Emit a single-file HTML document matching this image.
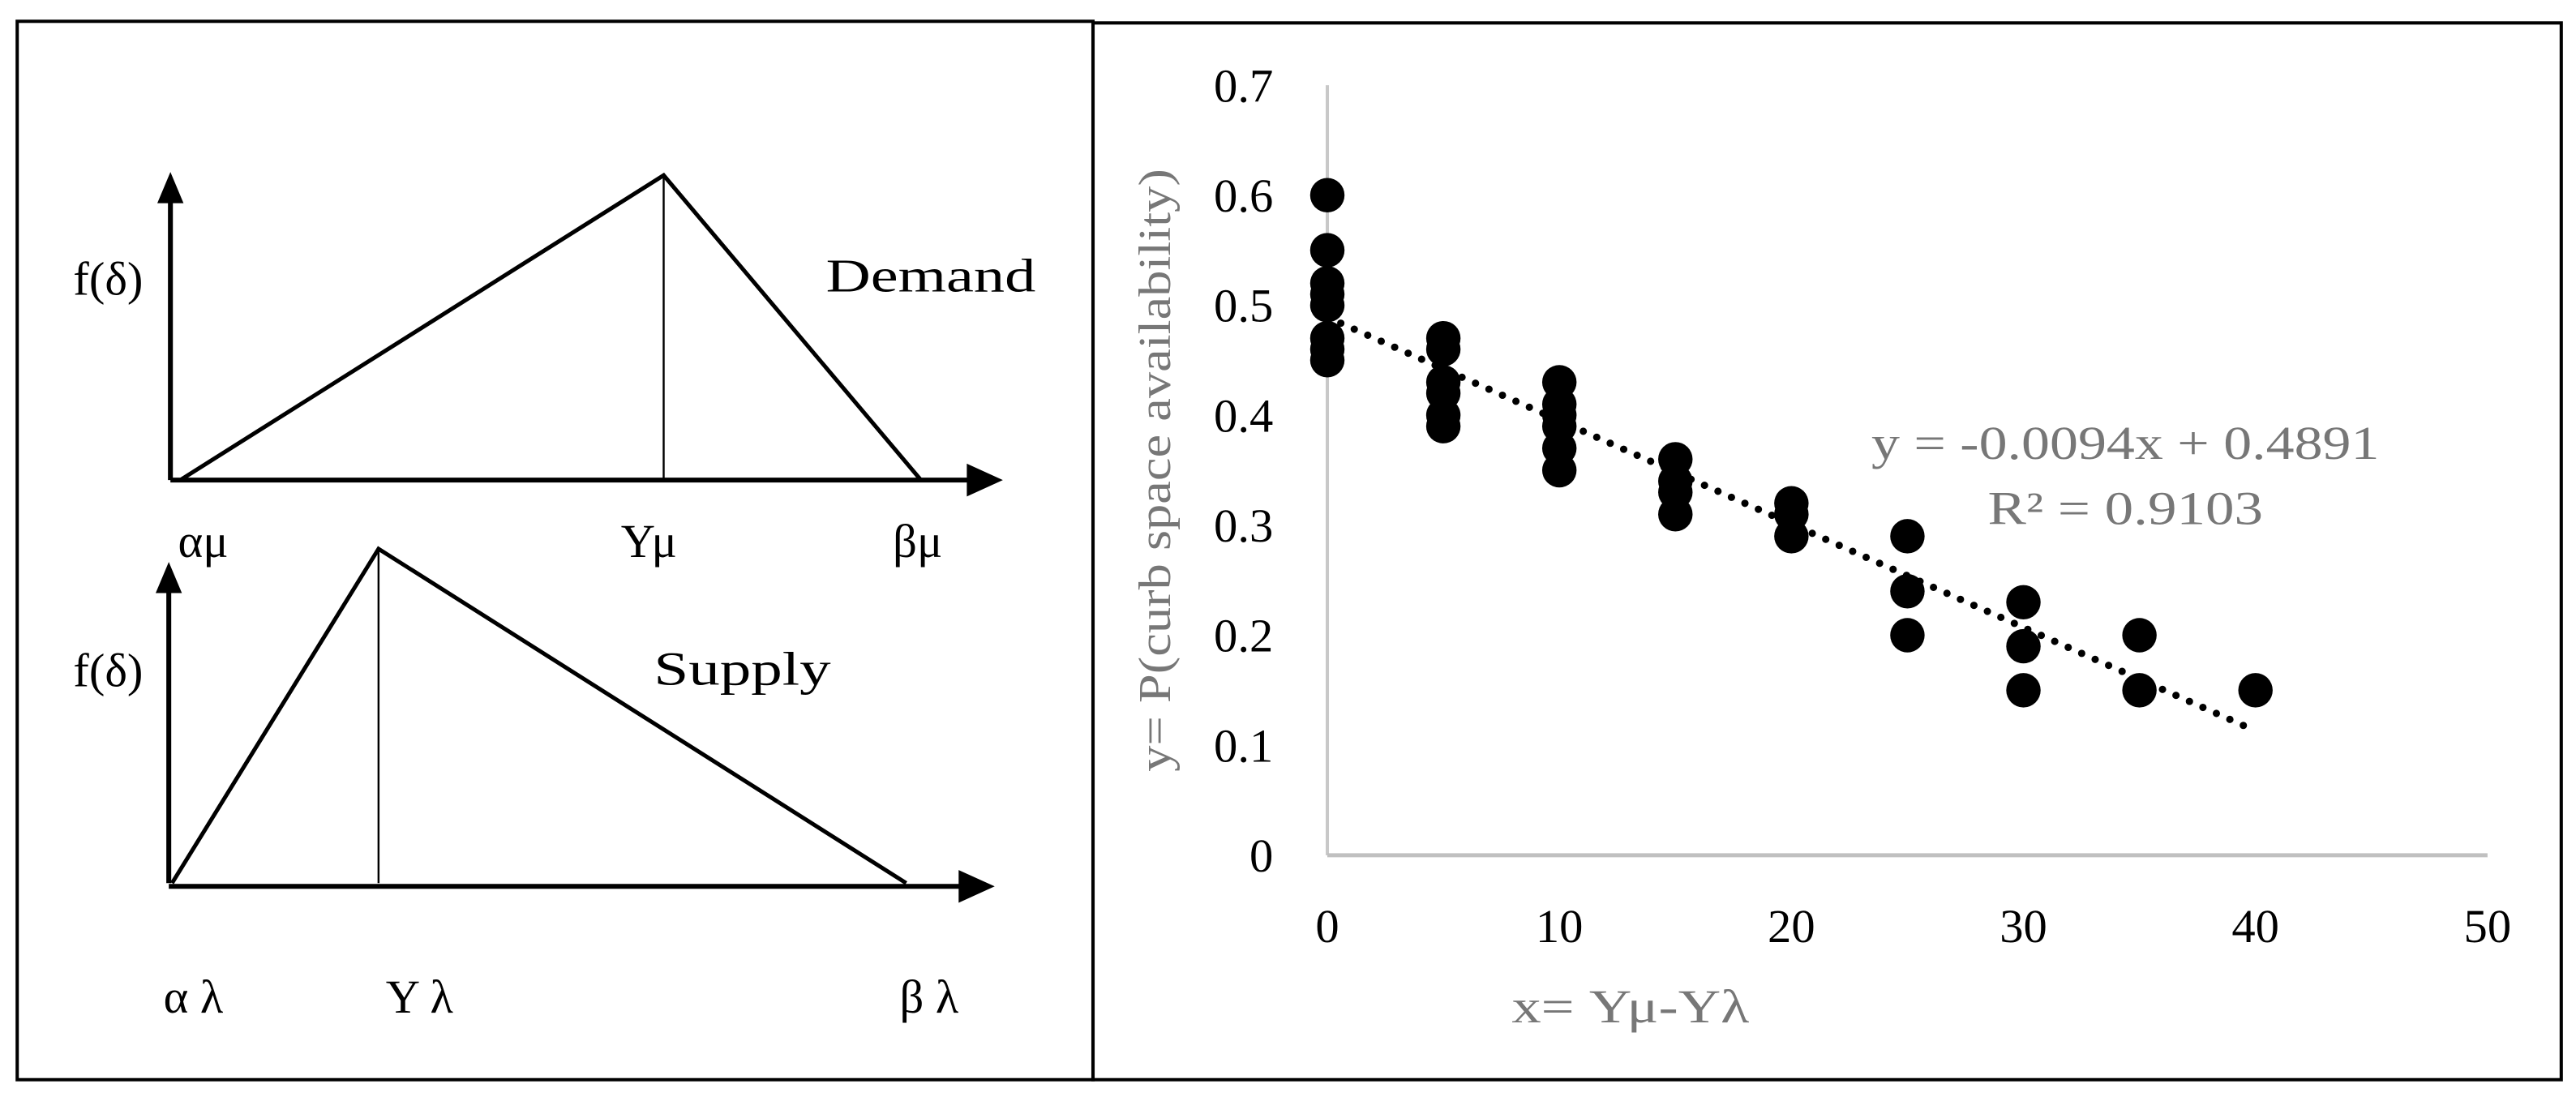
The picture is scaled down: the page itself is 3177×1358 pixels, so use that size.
<!DOCTYPE html>
<html><head><meta charset="utf-8">
<style>
html,body{margin:0;padding:0;background:#fff;}
svg{display:block;}
text{font-family:"Liberation Serif",serif;}
</style></head>
<body>
<svg id="fig" width="3177" height="1358" viewBox="0 0 1572 672" preserveAspectRatio="none" xmlns="http://www.w3.org/2000/svg">
<g>
<rect x="10.5" y="13" width="656.5" height="646" fill="none" stroke="#000" stroke-width="2"/>
<g stroke="#000" fill="none">
<line x1="104" y1="293" x2="104" y2="122" stroke-width="3"/>
<polygon points="104,105 96,124 112,124" fill="#000" stroke="none"/>
<line x1="104" y1="293" x2="595" y2="293" stroke-width="3"/>
<polygon points="612,293 590,283 590,303" fill="#000" stroke="none"/>
<polyline points="110,293 405,107 562,293" stroke-width="2.5"/>
<line x1="405" y1="107" x2="405" y2="293" stroke-width="1.2"/>
</g>
<g stroke="#000" fill="none">
<line x1="103" y1="539" x2="103" y2="360" stroke-width="3"/>
<polygon points="103,343 95,362 111,362" fill="#000" stroke="none"/>
<line x1="103" y1="541" x2="590" y2="541" stroke-width="3"/>
<polygon points="607,541 585,531 585,551" fill="#000" stroke="none"/>
<polyline points="105,539 231,335 553,539" stroke-width="2.5"/>
<line x1="231" y1="335" x2="231" y2="539" stroke-width="1.2"/>
</g>
<g font-size="29" fill="#000">
<text x="66" y="180" text-anchor="middle">f(δ)</text>
<text x="568" y="178" text-anchor="middle" textLength="128" lengthAdjust="spacingAndGlyphs">Demand</text>
<text x="124" y="340" text-anchor="middle">αμ</text>
<text x="396" y="340" text-anchor="middle">Υμ</text>
<text x="560" y="340" text-anchor="middle">βμ</text>
<text x="66" y="419" text-anchor="middle">f(δ)</text>
<text x="453" y="418" text-anchor="middle" textLength="108" lengthAdjust="spacingAndGlyphs">Supply</text>
<text x="118" y="618" text-anchor="middle">α λ</text>
<text x="256" y="618" text-anchor="middle">Υ λ</text>
<text x="567" y="618" text-anchor="middle">β λ</text>
</g>
</g>
<g>
<rect x="667" y="14" width="896" height="645" fill="none" stroke="#000" stroke-width="2"/>
<g id="chart"></g>
</g>
</svg>
<script>
const xTicks = [0, 10, 20, 30, 40, 50];
const yTicks = [0, 0.1, 0.2, 0.3, 0.4, 0.5, 0.6, 0.7];
const yTickLabels = ["0", "0.1", "0.2", "0.3", "0.4", "0.5", "0.6", "0.7"];
const pointX = [0,0,0,0,0,0,0,0, 5,5,5,5,5,5, 10,10,10,10,10,10, 15,15,15,15, 20,20,20, 25,25,25, 30,30,30, 35,35, 40];
const pointY = [0.60,0.55,0.52,0.51,0.50,0.47,0.46,0.45, 0.47,0.46,0.43,0.42,0.40,0.39, 0.43,0.41,0.40,0.39,0.37,0.35, 0.36,0.34,0.33,0.31, 0.32,0.31,0.29, 0.29,0.24,0.20, 0.23,0.19,0.15, 0.20,0.15, 0.15];
const trendSlope = -0.0094;
const trendIntercept = 0.4891;
const trendRange = [0, 40];
const equationText = ["y = -0.0094x + 0.4891", "R² = 0.9103"];

const NS = "http://www.w3.org/2000/svg";
const g = document.getElementById("chart");
const X0 = 810, X1 = 1518, Y0 = 522, Y1 = 52;
const sx = v => X0 + (v - 0) / (50 - 0) * (X1 - X0);
const sy = v => Y0 - (v - 0) / (0.7 - 0) * (Y0 - Y1);
function mk(tag, attrs) {
  const e = document.createElementNS(NS, tag);
  for (const k in attrs) e.setAttribute(k, attrs[k]);
  g.appendChild(e);
  return e;
}
let e;
e = mk("line", {x1: sx(0), y1: sy(0.7), x2: sx(0), y2: sy(0), stroke: "#c8c8c8", "stroke-width": 2});


e = mk("line", {x1: sx(0), y1: sy(0), x2: sx(50), y2: sy(0), stroke: "#c0c0c0", "stroke-width": 2.5});


yTicks.forEach((v, i) => {
  const t = mk("text", {x: 777, y: sy(v) + 10, "text-anchor": "end", "font-size": 29, fill: "#000"});
  t.textContent = yTickLabels[i];
  
  
});
xTicks.forEach(v => {
  const t = mk("text", {x: sx(v), y: 575, "text-anchor": "middle", "font-size": 29, fill: "#000"});
  t.textContent = String(v);
  
  
});
pointX.forEach((xv, i) => {
  const c = mk("circle", {cx: sx(xv), cy: sy(pointY[i]), r: 10.5, fill: "#000"});
  
  
});
e = mk("line", {x1: sx(trendRange[0]), y1: sy(trendIntercept + trendSlope * trendRange[0]), x2: sx(trendRange[1]), y2: sy(trendIntercept + trendSlope * trendRange[1]), stroke: "#000", "stroke-width": 4.5, "stroke-linecap": "round", "stroke-dasharray": "0 9"});


e = mk("text", {x: 1297, y: 280, "text-anchor": "middle", "font-size": 29, fill: "#777", textLength: "310", lengthAdjust: "spacingAndGlyphs"});
e.textContent = equationText[0];


e = mk("text", {x: 1297, y: 320, "text-anchor": "middle", "font-size": 29, fill: "#777", textLength: "168", lengthAdjust: "spacingAndGlyphs"});
e.textContent = equationText[1];


e = mk("text", {x: 995, y: 624, "text-anchor": "middle", "font-size": 29, fill: "#777", textLength: "145", lengthAdjust: "spacingAndGlyphs"});
e.textContent = "x= Υμ-Υλ";


e = mk("text", {x: 0, y: 0, "text-anchor": "middle", "font-size": 28, fill: "#777", transform: "translate(714,287) rotate(-90)", textLength: "368", lengthAdjust: "spacingAndGlyphs"});
e.textContent = "y= P(curb space availability)";


</script>
</body></html>
